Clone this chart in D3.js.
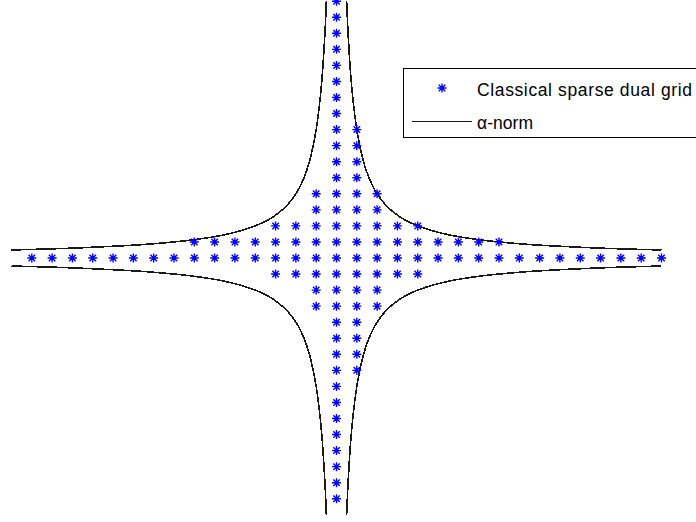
<!DOCTYPE html>
<html>
<head>
<meta charset="utf-8">
<script src="https://cdn.jsdelivr.net/npm/d3@7"></script>
<style>
  html, body { margin: 0; padding: 0; background: #fff; }
  svg { display: block; }
  text { font-family: "Liberation Sans", Arial, Helvetica, sans-serif; }
</style>
</head>
<body>
<svg id="chart" width="696" height="522"></svg>
<script>
// Sparse dual grid: for each row index ky, the lowest and highest kx present
const rowKy  = [16, 15, 14, 13, 12, 11, 10, 9, 8, 7, 6, 5, 4, 3, 2, 1, 0, -1, -2, -3, -4, -5, -6, -7, -8, -9, -10, -11, -12, -13, -14, -15];
const rowMin = [0, 0, 0, 0, 0, 0, 0, 0, 0, 0, 0, 0, -1, -1, -3, -7, -15, -3, -1, -1, 0, 0, 0, 0, 0, 0, 0, 0, 0, 0, 0, 0];
const rowMax = [0, 0, 0, 0, 0, 0, 0, 0, 1, 1, 1, 1, 2, 2, 4, 8, 16, 4, 2, 2, 1, 1, 1, 1, 0, 0, 0, 0, 0, 0, 0, 0];

// alpha-norm level curve, first quadrant (mirrored into the other three)
const curveX = [0.5, 0.55, 0.62, 0.7, 0.8, 0.9, 1, 1.15, 1.3, 1.5, 1.75, 2, 2.4, 2.83, 3.3, 4, 4.8, 5.7, 7, 8, 9.5, 11, 12.5, 14, 16];
const curveY = [16, 14.5, 12.9, 11.4, 10, 8.9, 8, 7, 6.15, 5.33, 4.57, 4, 3.33, 2.83, 2.42, 2, 1.67, 1.4, 1.14, 1, 0.84, 0.73, 0.64, 0.57, 0.5];

const legendLabels = ["Classical sparse dual grid", "\u03b1-norm"];

const svg = d3.select("#chart");
const x = d3.scaleLinear().domain([-16, 16]).range([11.5, 661.5]);
const y = d3.scaleLinear().domain([-16, 16]).range([514.8, 1.2]);

// asterisk marker
const star = r => {
  const d = r * 0.72;
  return `M${-r},0H${r}M0,${-r}V${r}M${-d},${-d}L${d},${d}M${-d},${d}L${d},${-d}`;
};

// grid points
const pts = [];
rowKy.forEach((ky, i) => {
  for (let kx = rowMin[i]; kx <= rowMax[i]; kx++) pts.push([kx, ky]);
});

// curve branches
const quad = curveX.map((v, i) => [v, curveY[i]]);
const signs = [[1, 1], [-1, 1], [-1, -1], [1, -1]];
const line = d3.line()
  .x(d => x(d[0]))
  .y(d => y(d[1]))
  .curve(d3.curveCatmullRom.alpha(0.5));

svg.append("g")
  .selectAll("path")
  .data(signs)
  .join("path")
  .attr("d", s => line(quad.map(p => [s[0] * p[0], s[1] * p[1]])))
  .attr("fill", "none")
  .attr("stroke", "#1a1a1a")
  .attr("stroke-width", 1.6)
  .attr("shape-rendering", "crispEdges");

svg.append("g")
  .selectAll("path")
  .data(pts)
  .join("path")
  .attr("transform", d => `translate(${x(d[0])},${y(d[1])})`)
  .attr("d", star(4.5))
  .attr("fill", "none")
  .attr("stroke", "#0000ff")
  .attr("stroke-width", 1.4);

// legend
const lg = svg.append("g");
lg.append("rect")
  .attr("x", 403.5).attr("y", 68.5)
  .attr("width", 300).attr("height", 69)
  .attr("fill", "#fff")
  .attr("stroke", "#000")
  .attr("stroke-width", 1);
lg.append("path")
  .attr("transform", "translate(442,88)")
  .attr("d", star(4.5))
  .attr("fill", "none")
  .attr("stroke", "#0000ff")
  .attr("stroke-width", 1.4);
lg.append("line")
  .attr("x1", 412).attr("x2", 472)
  .attr("y1", 121.5).attr("y2", 121.5)
  .attr("stroke", "#1a1a1a")
  .attr("stroke-width", 1.2);
lg.selectAll("text")
  .data(legendLabels)
  .join("text")
  .attr("x", 477)
  .attr("y", (d, i) => i === 0 ? 96 : 129)
  .attr("font-size", 17.5)
  .attr("fill", "#000")
  .attr("textLength", (d, i) => i === 0 ? 215 : 56)
  .attr("lengthAdjust", "spacing")
  .text(d => d);
</script>
</body>
</html>
